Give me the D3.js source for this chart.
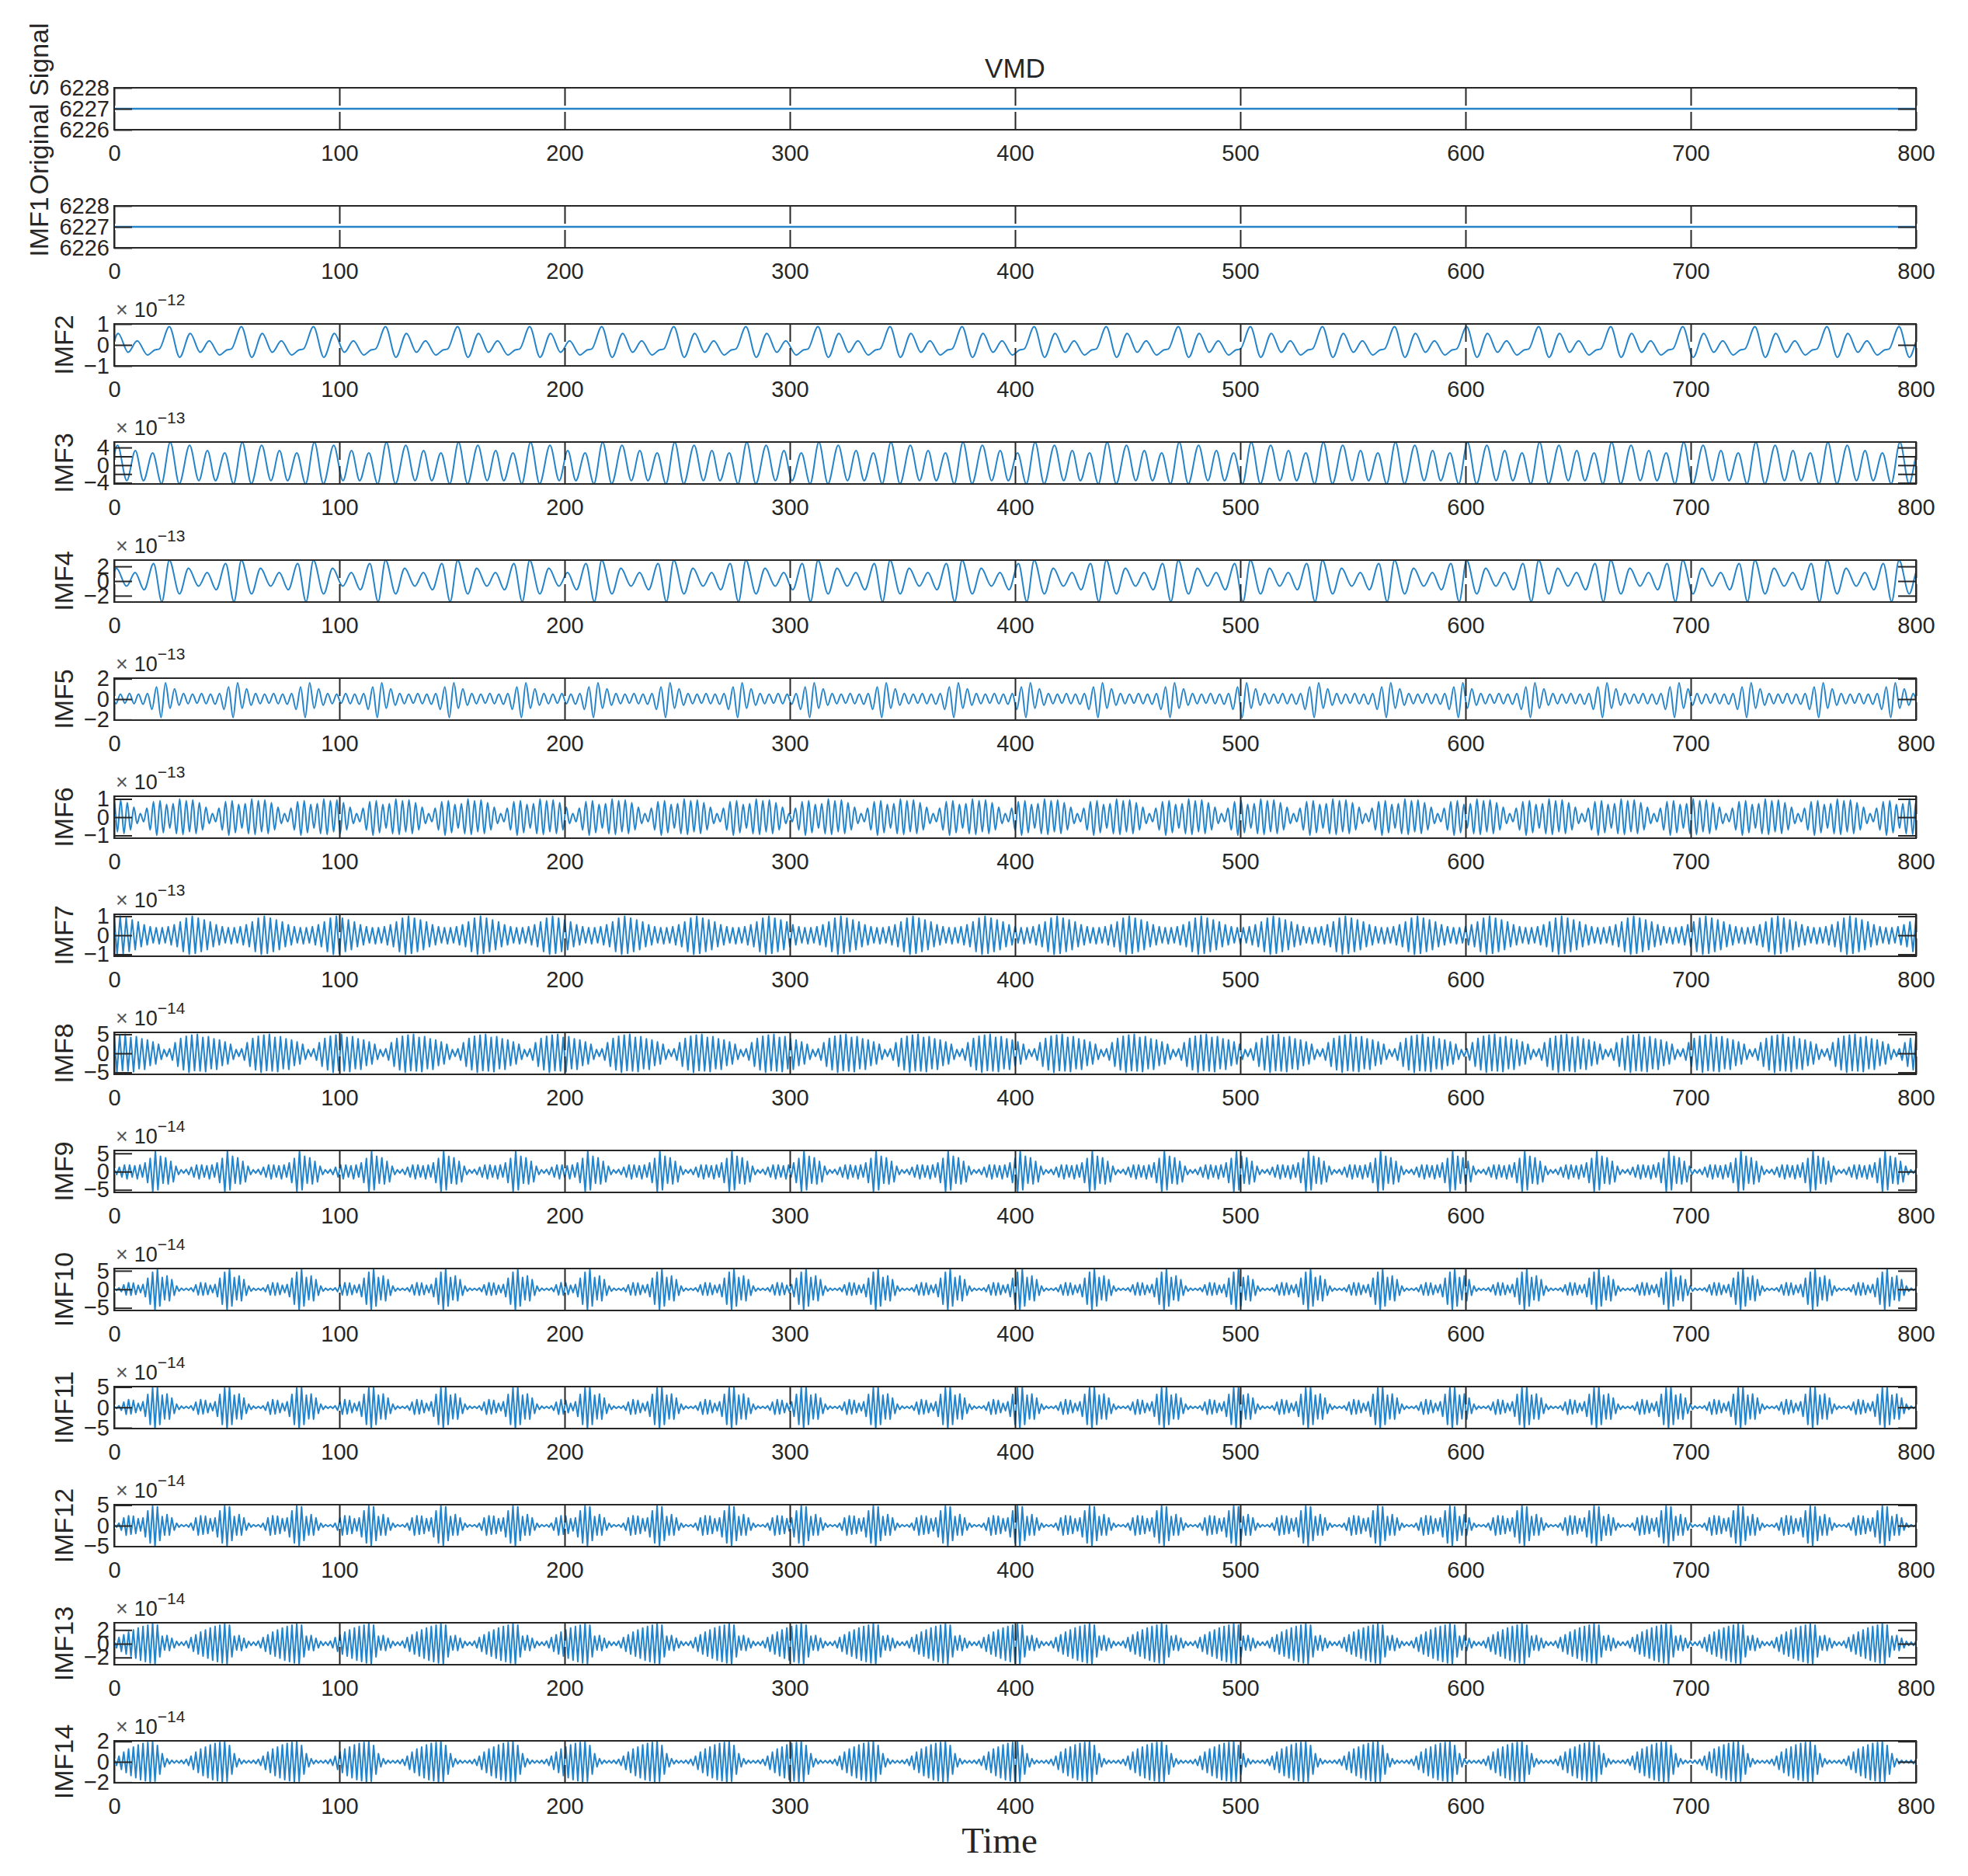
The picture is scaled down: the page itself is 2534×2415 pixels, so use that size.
<!DOCTYPE html>
<html>
<head>
<meta charset="utf-8">
<script src="https://cdn.jsdelivr.net/npm/d3@7"></script>
<style>
  body { margin: 0; background: #fff; }
  text { font-family: "Liberation Sans", Arial, sans-serif; fill: #262626; }
</style>
</head>
<body>
<div id="chart"></div>
<script>
// ---- data ----
const sampleCount = 800;
const cycleLength = 32;          // every mode repeats about every 32 samples
const timeTicks = [0, 100, 200, 300, 400, 500, 600, 700, 800];

const panelNames = ["Original Signal", "IMF1", "IMF2", "IMF3", "IMF4", "IMF5", "IMF6", "IMF7",
  "IMF8", "IMF9", "IMF10", "IMF11", "IMF12", "IMF13", "IMF14"];
const panelExponents = [null, null, -12, -13, -13, -13, -13, -13, -14, -14, -14, -14, -14, -14, -14];
const panelLimits = [[6226, 6228], [6226, 6228], [-1, 1], [-4.25, 5.25], [-2.86, 2.86], [-2.05, 2.05],
  [-1.15, 1.15], [-1.1, 1.1], [-5.5, 5.5], [-5.7, 5.8], [-5.7, 5.6], [-5.2, 5.1], [-5.1, 5.1],
  [-3.05, 3.05], [-2.05, 2.05]];
const panelTicks = [[6226, 6227, 6228], [6226, 6227, 6228], [-1, 0, 1], [-4, -2, 0, 2, 4], [-2, 0, 2],
  [-2, 0, 2], [-1, 0, 1], [-1, 0, 1], [-5, 0, 5], [-5, 0, 5], [-5, 0, 5], [-5, 0, 5], [-5, 0, 5],
  [-2, 0, 2], [-2, 0, 2]];
const panelTickLabels = [["6226", "6227", "6228"], ["6226", "6227", "6228"], ["−1", "0", "1"],
  ["−4", "", "0", "", "4"], ["−2", "0", "2"], ["−2", "0", "2"], ["−1", "0", "1"], ["−1", "0", "1"],
  ["−5", "0", "5"], ["−5", "0", "5"], ["−5", "0", "5"], ["−5", "0", "5"], ["−5", "0", "5"],
  ["−2", "0", "2"], ["−2", "0", "2"]];

// original signal and IMF1 are flat
const flatLevel = 6227;

// smooth modes: [sample within cycle, value] at each turning point
const imf2Peaks = [[1.8, 0.55], [6.2, -0.35], [10.2, 0.19], [14.8, -0.48], [18, -0.24], [20, -0.2],
  [24.5, 0.87], [29.1, -0.59]];
const imf3Peaks = [[1.5, 4.5], [5.6, -3.5], [9.4, 3.3], [13, -3.5], [17.1, 2.8], [21, -4.2],
  [24.9, 5.2], [28.9, -4.2]];
const imf4Peaks = [[1, 1.75], [5.5, -0.7], [9.3, 1.16], [13.3, -1.19], [17.5, 2.39], [21.2, -2.8],
  [24.5, 2.84], [29, -1.75]];

// fast modes: successive turning-point values over one cycle, evenly spread
const imf5Peaks = [-0.45, 0.5, -0.4, 0.55, -0.45, 0.5, -0.5, 0.55, -1.0, 1.2, -1.8, 1.6, -0.9, 1.0, -0.6, 0.55];
const imf6Peaks = [0.9, -0.8, 0.95, -0.9, 0.8, -0.7, 0.55, -0.35, 0.2, -0.25, 0.5, -0.7, 0.85, -1.0,
  0.9, -0.85, 0.7, -0.6, 0.75, -0.9, 1.0, -0.95];
const imf7Peaks = [0.9, -1.0, 1.0, -0.95, 0.9, -0.85, 0.8, -0.75, 0.7, -0.6, 0.55, -0.5, 0.45, -0.4,
  0.4, -0.45, 0.4, -0.4, 0.45, -0.5, 0.55, -0.6, 0.7, -0.85];
const imf8Peaks = [4.5, -5.0, 4.8, -4.5, 5.0, -4.6, 4.2, -4.8, 4.4, -4.0, 3.8, -4.2, 3.5, -3.2, 3.0,
  -2.8, 2.4, -1.6, 1.0, -0.8, 1.2, -1.8, 2.8, -3.4, 3.9, -4.3];
const imf9Peaks = [0.6, -0.8, 1.2, -1.5, 1.8, -2.0, 1.8, -1.5, 1.6, -2.0, 1.8, -1.5, 2.4, -3.0, 3.6,
  -5.5, 5.6, -5.0, 4.2, -3.2, 3.8, -3.4, 2.8, -2.8, 1.5, -0.8, 0.5, -0.4];
const imf10Peaks = [0.25, -0.25, 0.4, -0.6, 1.2, -1.5, 1.8, -1.6, 1.7, -1.4, 1.1, -0.9, 1.3, -2.0, 3.0,
  -4.0, 4.6, -5.6, 5.5, -4.5, 3.2, -2.8, 3.6, -3.1, 2.6, -1.6, 0.9, -0.5, 0.3, -0.25];
const imf11Peaks = [0.25, -0.25, 0.4, -0.7, 1.3, -1.7, 1.9, -1.6, 1.7, -1.3, 1.0, -0.8, 1.4, -2.2, 3.2,
  -4.2, 4.8, -5.2, 5.0, -4.2, 3.0, -2.8, 3.3, -2.9, 2.3, -1.5, 0.8, -0.5, 0.3, -0.25];
const imf12Peaks = [0.25, -0.35, 0.6, -1.1, 1.9, -2.3, 2.4, -2.1, 2.3, -1.9, 1.7, -1.3, 1.9, -2.7, 3.6,
  -4.2, 4.8, -5.0, 4.6, -3.6, 2.2, -2.3, 2.7, -2.3, 1.9, -1.1, 0.6, -0.35, 0.25, -0.2];
const imf13Peaks = [0.4, -0.6, 0.9, -1.1, 1.3, -1.5, 1.7, -1.8, 2.0, -2.1, 2.3, -2.4, 2.5, -2.6, 2.7,
  -2.8, 3.0, -3.0, 2.7, -1.9, 1.1, -0.9, 1.2, -1.0, 0.8, -0.6, 0.35, -0.25, 0.25, -0.25];
const imf14Peaks = [0.25, -0.35, 0.55, -0.75, 0.95, -1.05, 1.25, -1.35, 1.45, -1.55, 1.65, -1.75, 1.8, -1.85,
  1.9, -2.0, 2.0, -1.9, 1.6, -1.2, 0.8, -0.5, 0.3, -0.2, 0.15, -0.12, 0.12, -0.12, 0.15, -0.18];

const panelCycles = [null, null, imf2Peaks, imf3Peaks, imf4Peaks, imf5Peaks, imf6Peaks, imf7Peaks,
  imf8Peaks, imf9Peaks, imf10Peaks, imf11Peaks, imf12Peaks, imf13Peaks, imf14Peaks];
const panelShifts = [0, 0, 0, 0, 0, 0.8, 0, 0, 0, 0, 0, 0, 0, 0, 0];

// ---- layout ----
const width = 2534, height = 2415;
const plotLeft = 147, plotRight = 2467;
const firstTop = 113, panelStep = 152, panelHeight = 54;
const tickLen = 23;
const ink = "#262626";
const lineColor = "#2584c9";

const svg = d3.select("#chart").append("svg")
  .attr("width", width)
  .attr("height", height);

const x = d3.scaleLinear().domain([0, sampleCount]).range([plotLeft, plotRight]);

function cyclePoints(cycle, shift) {
  return cycle.map((d, i) => Array.isArray(d) ? d : [shift + i * cycleLength / cycle.length, d]);
}

function tileSeries(cycle, shift) {
  let base = cyclePoints(cycle, shift);
  let pts = [];
  for (let k = -1; k <= sampleCount / cycleLength; k++) {
    base.forEach(([t, v]) => pts.push([k * cycleLength + t, v]));
  }
  return pts.filter(p => p[0] > -cycleLength / 2 && p[0] < sampleCount + cycleLength / 2);
}

function styleAxis(g) {
  g.attr("font-family", null).attr("font-size", null);
  g.select(".domain").remove();
  g.selectAll(".tick line").attr("stroke", ink).attr("stroke-width", 2);
  g.selectAll(".tick text").attr("font-size", 29).attr("fill", ink);
}

panelNames.forEach((name, i) => {
  let top = firstTop + i * panelStep;
  let bottom = top + panelHeight;
  let y = d3.scaleLinear().domain(panelLimits[i]).range([bottom, top]);
  let g = svg.append("g");

  g.append("clipPath").attr("id", "clip" + i)
    .append("rect")
    .attr("x", plotLeft).attr("y", top)
    .attr("width", plotRight - plotLeft).attr("height", panelHeight);

  let series = panelCycles[i]
    ? tileSeries(panelCycles[i], panelShifts[i])
    : [[0, flatLevel], [sampleCount, flatLevel]];
  let curve = (i >= 2 && i <= 6) ? d3.curveMonotoneX : d3.curveLinear;

  let line = d3.line()
    .x(d => x(d[0]))
    .y(d => y(d[1]))
    .curve(curve);

  g.append("path")
    .datum(series)
    .attr("clip-path", `url(#clip${i})`)
    .attr("fill", "none")
    .attr("stroke", lineColor)
    .attr("stroke-width", i < 2 ? 2.5 : 2)
    .attr("stroke-linejoin", "round")
    .attr("d", line);

  // axes: MATLAB style, ticks pointing inwards on all four sides
  let labels = new Map(panelTicks[i].map((t, j) => [t, panelTickLabels[i][j]]));

  g.append("g")
    .attr("transform", `translate(0,${bottom})`)
    .call(d3.axisBottom(x).tickValues(timeTicks).tickSizeInner(-tickLen).tickSizeOuter(0)
      .tickPadding(19).tickFormat(d3.format("d")))
    .call(styleAxis);

  g.append("g")
    .attr("transform", `translate(0,${top})`)
    .call(d3.axisTop(x).tickValues(timeTicks).tickSizeInner(-tickLen).tickSizeOuter(0).tickFormat(""))
    .call(styleAxis);

  let left = g.append("g")
    .attr("transform", `translate(${plotLeft},0)`)
    .call(d3.axisLeft(y).tickValues(panelTicks[i]).tickSizeInner(-tickLen).tickSizeOuter(0)
      .tickPadding(6).tickFormat(d => labels.get(d)))
    .call(styleAxis);

  g.append("g")
    .attr("transform", `translate(${plotRight},0)`)
    .call(d3.axisRight(y).tickValues(panelTicks[i]).tickSizeInner(-tickLen).tickSizeOuter(0).tickFormat(""))
    .call(styleAxis);

  g.append("rect")
    .attr("x", plotLeft).attr("y", top)
    .attr("width", plotRight - plotLeft).attr("height", panelHeight)
    .attr("fill", "none")
    .attr("stroke", ink)
    .attr("stroke-width", 2);

  // y label left of the tick labels
  let textBoxes = left.selectAll("text").nodes().map(n => n.getBBox());
  let labelsLeft = d3.min(textBoxes, b => b.x) + plotLeft;
  g.append("text")
    .attr("transform", `translate(${labelsLeft - 14},${top + panelHeight / 2}) rotate(-90)`)
    .attr("text-anchor", "middle")
    .attr("font-size", 34)
    .text(name);

  // exponent above the axes
  if (panelExponents[i] !== null) {
    let ex = g.append("text")
      .attr("x", plotLeft + 2)
      .attr("y", top - 9)
      .attr("font-size", 27);
    ex.append("tspan").attr("fill", "#555").text("×");
    ex.append("tspan").attr("dx", 8).text("10");
    ex.append("tspan")
      .attr("dy", -15)
      .attr("font-size", 21)
      .text("−" + Math.abs(panelExponents[i]));
  }
});

svg.append("text")
  .attr("x", (plotLeft + plotRight) / 2)
  .attr("y", 100)
  .attr("text-anchor", "middle")
  .attr("font-size", 35)
  .text("VMD");

svg.append("text")
  .attr("x", 1287)
  .attr("y", 2385)
  .attr("text-anchor", "middle")
  .attr("font-size", 47)
  .style("font-family", "'Liberation Serif', 'Times New Roman', serif")
  .text("Time");
</script>
</body>
</html>
